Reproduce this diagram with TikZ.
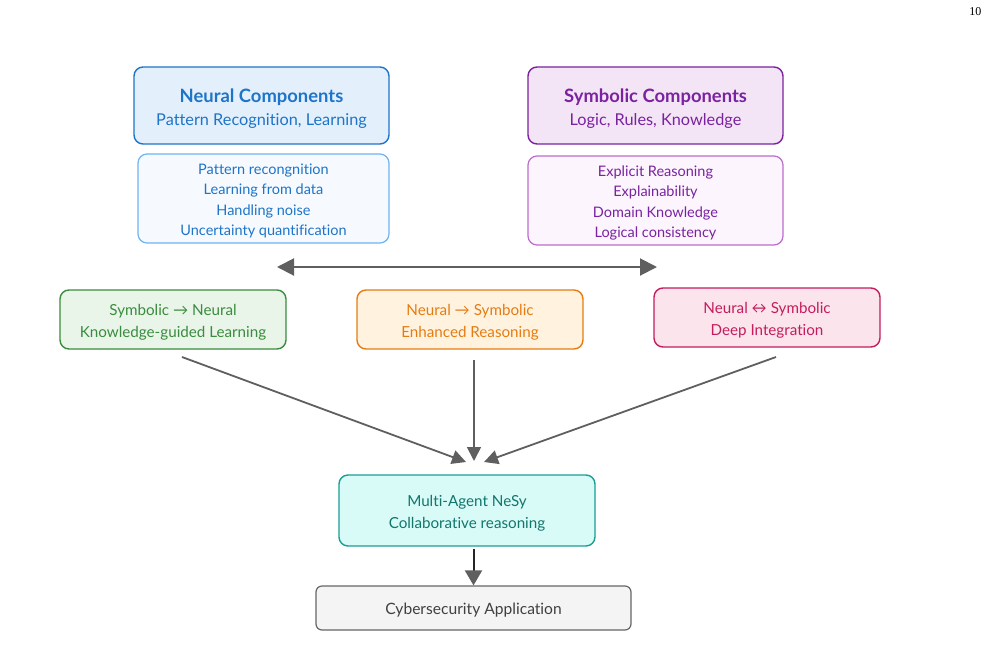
\documentclass[tikz,border=0pt]{standalone}
\usepackage{fontspec}
\setmainfont{Lato}[Ligatures={NoCommon}]
\newfontfamily\pagefont{Liberation Serif}
\usetikzlibrary{arrows.meta}
\newcommand\dnstrut{\rule{0pt}{1.05em}}
\definecolor{nblue}{HTML}{1E74C8}
\definecolor{nbluefill}{HTML}{E3F0FC}
\definecolor{nbluelite}{HTML}{6CB4F2}
\definecolor{nbluefill2}{HTML}{F6FAFF}
\definecolor{spurple}{HTML}{7A22A0}
\definecolor{spurplefill}{HTML}{F3E5F5}
\definecolor{spurplelite}{HTML}{BC6CCB}
\definecolor{spurplefill2}{HTML}{FCF5FD}
\definecolor{ggreen}{HTML}{3A8C3E}
\definecolor{ggreenfill}{HTML}{E9F5E9}
\definecolor{oorange}{HTML}{E57C12}
\definecolor{oorangefill}{HTML}{FFF3E0}
\definecolor{ppink}{HTML}{C41C5C}
\definecolor{ppinkfill}{HTML}{FCE4EC}
\definecolor{tteal}{HTML}{189E92}
\definecolor{ttealtext}{HTML}{12766C}
\definecolor{ttealfill}{HTML}{D9FBF8}
\definecolor{ggray}{HTML}{666666}
\definecolor{ggrayfill}{HTML}{F4F4F4}
\definecolor{arrowgray}{HTML}{5F5F5F}
\tikzset{
  x=1pt, y=1pt,
  box/.style={draw, rounded corners=9pt, line width=1.4pt, align=center, inner sep=0pt, font=\fontsize{15.2}{22}\selectfont},
  dblarrow/.style={draw=arrowgray, line width=2pt, {Triangle[length=17pt, width=17pt]}-{Triangle[length=17pt, width=17pt]}},
  convarrow/.style={draw=arrowgray, line width=1.8pt, -{Triangle[length=14pt, width=14pt]}},
}
\begin{document}
\begin{tikzpicture}
\useasboundingbox (0,0) rectangle (990,-656);
\node[font=\pagefont\fontsize{12}{14}\selectfont, anchor=east] (pg) at (985,-12) {10};

% Neural
\node[box, draw=nblue, fill=nbluefill, text=nblue, minimum width=255pt, minimum height=77pt, font=\fontsize{16.3}{23}\selectfont] (neural) at (261.5,-105.5)
  {{\fontsize{18.4}{24}\selectfont\bfseries\dnstrut Neural Components}\\Pattern Recognition, Learning};
\node[box, draw=nbluelite, fill=nbluefill2, text=nblue, line width=1.2pt, minimum width=251pt, minimum height=89pt, font=\fontsize{14.5}{20.5}\selectfont] (neurallist) at (263.5,-198.5)
  {\dnstrut Pattern recongnition\\Learning from data\\Handling noise\\Uncertainty quantification};

% Symbolic
\node[box, draw=spurple, fill=spurplefill, text=spurple, minimum width=255pt, minimum height=77pt, font=\fontsize{16.3}{23}\selectfont] (symb) at (655.5,-105.5)
  {{\fontsize{18.4}{24}\selectfont\bfseries\dnstrut Symbolic Components}\\Logic, Rules, Knowledge};
\node[box, draw=spurplelite, fill=spurplefill2, text=spurple, line width=1.2pt, minimum width=255pt, minimum height=89pt, font=\fontsize{14.5}{20.5}\selectfont] (symblist) at (655.5,-200.5)
  {\dnstrut Explicit Reasoning\\Explainability\\Domain Knowledge\\Logical consistency};

% double arrow
\coordinate (dl) at (277,-267);
\coordinate (dr) at (657,-267);
\draw[dblarrow] (dl) -- (dr);

% Middle row
\node[box, draw=ggreen, fill=ggreenfill, text=ggreen, minimum width=226pt, minimum height=59pt] (sn) at (173,-319.5)
  {\dnstrut Symbolic → Neural\\Knowledge-guided Learning};
\node[box, draw=oorange, fill=oorangefill, text=oorange, minimum width=226pt, minimum height=59pt] (ns) at (470,-319.5)
  {\dnstrut Neural → Symbolic\\Enhanced Reasoning};
\node[box, draw=ppink, fill=ppinkfill, text=ppink, minimum width=226pt, minimum height=59pt] (nsd) at (767,-317.5)
  {\dnstrut Neural ↔ Symbolic\\Deep Integration};

% Multi-agent
\node[box, draw=tteal, fill=ttealfill, text=ttealtext, minimum width=256pt, minimum height=71pt] (ma) at (467,-510.5)
  {\dnstrut Multi-Agent NeSy\\Collaborative reasoning};

% Cyber
\node[box, draw=ggray, fill=ggrayfill, text=black!75, line width=1.2pt, rounded corners=6pt, minimum width=315pt, minimum height=44pt, font=\fontsize{15.6}{20}\selectfont] (cy) at (473.5,-608)
  {\dnstrut Cybersecurity Application};

% converging arrows
\coordinate (a1s) at (182,-357);
\coordinate (a1e) at (466,-462);
\coordinate (a2s) at (474,-360);
\coordinate (a2e) at (474,-461);
\coordinate (a3s) at (776,-357);
\coordinate (a3e) at (484,-462);
\draw[convarrow] (a1s) -- (a1e);
\draw[convarrow] (a2s) -- (a2e);
\draw[convarrow] (a3s) -- (a3e);

% ma -> cy
\draw[draw=black!85, line width=2pt, -{Triangle[length=15pt, width=17pt, color=arrowgray]}] (ma.south -| cy.north) ++(0,-2) -- (cy.north);
\end{tikzpicture}
\end{document}
